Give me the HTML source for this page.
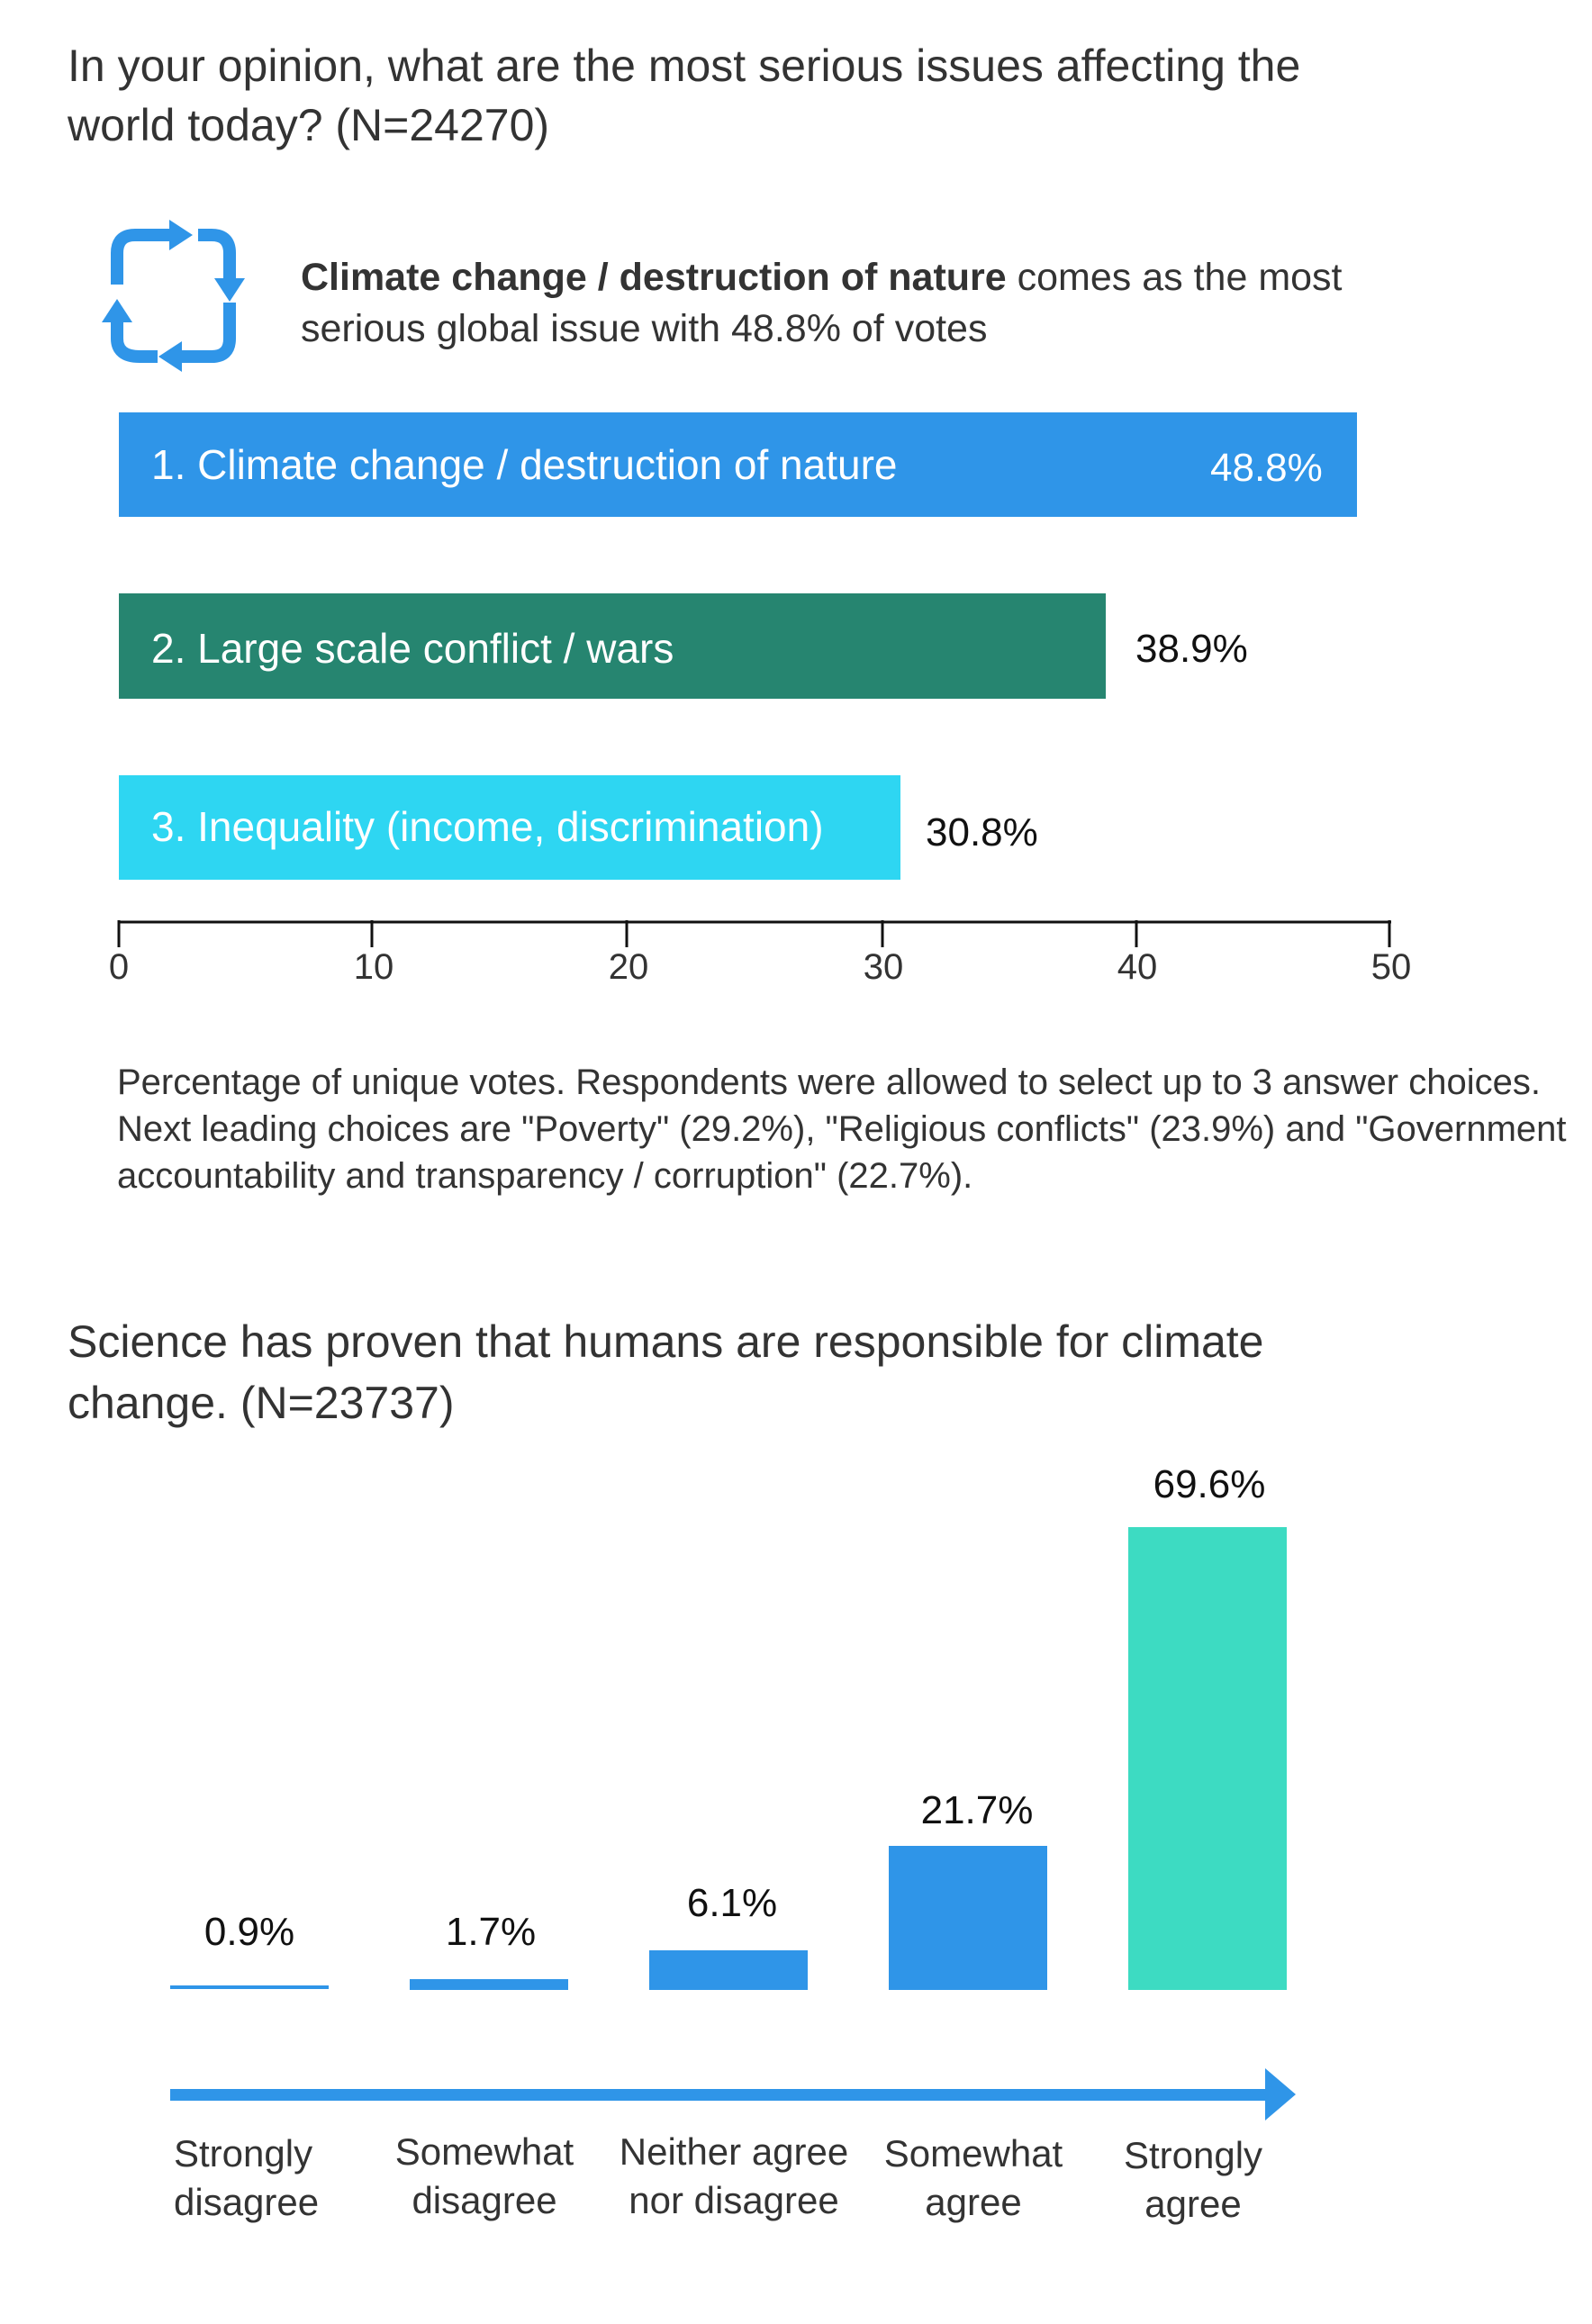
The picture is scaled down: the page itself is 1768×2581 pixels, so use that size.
<!DOCTYPE html>
<html><head><meta charset="utf-8"><style>
html,body{margin:0;padding:0;background:#fff;}
body{width:1768px;height:2581px;position:relative;overflow:hidden;font-family:"Liberation Sans Narrow","Liberation Sans",sans-serif;color:#333;}
.t{position:absolute;white-space:nowrap;}
.c{transform:translateX(-50%);text-align:center;}
</style></head><body>
<div class="t" style="left:75px;top:40px;font-size:50px;line-height:66px;color:#333">In your opinion, what are the most serious issues affecting the<br>world today? (N=24270)</div>

<svg style="position:absolute;left:110px;top:236px" width="190" height="186" viewBox="0 0 190 186">
<g fill="none" stroke="#2f95e8" stroke-width="14" stroke-linecap="butt">
<path d="M20 80 V45 Q20 25 40 25 H80"/>
<path d="M110 25 H125 Q145 25 145 45 V75"/>
<path d="M145 100 V140 Q145 160 125 160 H90"/>
<path d="M65 160 H45 Q20 160 20 140 V120"/>
</g>
<g fill="#2f95e8">
<polygon points="78,8 104,25 78,42"/>
<polygon points="128,73 162,73 145,99"/>
<polygon points="92,143 66,160 92,177"/>
<polygon points="3,122 37,122 20,96"/>
</g>
</svg>
<div class="t" style="left:334px;top:280px;font-size:43px;line-height:57px;color:#333"><b>Climate change / destruction of nature</b> comes as the most<br>serious global issue with 48.8% of votes</div>

<div style="position:absolute;left:132px;top:458px;width:1375px;height:116px;background:#2f95e8"></div>
<div class="t" style="left:168px;top:488px;font-size:46px;line-height:56px;color:#fff">1. Climate change / destruction of nature</div>
<div class="t" style="left:1344px;top:492px;font-size:44px;line-height:56px;color:#fff">48.8%</div>

<div style="position:absolute;left:132px;top:659px;width:1096px;height:117px;background:#268570"></div>
<div class="t" style="left:168px;top:692px;font-size:46px;line-height:56px;color:#fff">2. Large scale conflict / wars</div>
<div class="t" style="left:1261px;top:693px;font-size:44px;line-height:56px;color:#111">38.9%</div>

<div style="position:absolute;left:132px;top:861px;width:868px;height:116px;background:#2ed6f2"></div>
<div class="t" style="left:168px;top:890px;font-size:46px;line-height:56px;color:#fff">3. Inequality (income, discrimination)</div>
<div class="t" style="left:1028px;top:897px;font-size:44px;line-height:56px;color:#111">30.8%</div>

<svg style="position:absolute;left:0;top:0" width="1768" height="1100">
<g stroke="#111" stroke-width="3">
<line x1="131" y1="1024" x2="1545" y2="1024"/>
<line x1="132" y1="1022" x2="132" y2="1052"/>
<line x1="413" y1="1022" x2="413" y2="1052"/>
<line x1="696" y1="1022" x2="696" y2="1052"/>
<line x1="980" y1="1022" x2="980" y2="1052"/>
<line x1="1262" y1="1022" x2="1262" y2="1052"/>
<line x1="1543" y1="1022" x2="1543" y2="1052"/>
</g>
</svg>
<div class="t c" style="left:132px;top:1050px;font-size:40px;line-height:48px">0</div>
<div class="t c" style="left:415px;top:1050px;font-size:40px;line-height:48px">10</div>
<div class="t c" style="left:698px;top:1050px;font-size:40px;line-height:48px">20</div>
<div class="t c" style="left:981px;top:1050px;font-size:40px;line-height:48px">30</div>
<div class="t c" style="left:1263px;top:1050px;font-size:40px;line-height:48px">40</div>
<div class="t c" style="left:1545px;top:1050px;font-size:40px;line-height:48px">50</div>

<div class="t" style="left:130px;top:1176px;font-size:40px;line-height:52px;color:#333">Percentage of unique votes. Respondents were allowed to select up to 3 answer choices.<br>Next leading choices are "Poverty" (29.2%), "Religious conflicts" (23.9%) and "Government<br>accountability and transparency / corruption" (22.7%).</div>

<div class="t" style="left:75px;top:1456px;font-size:50px;line-height:68px;color:#333">Science has proven that humans are responsible for climate<br>change. (N=23737)</div>

<div style="position:absolute;left:189px;top:2205px;width:176px;height:4px;background:#2f95e8"></div>
<div style="position:absolute;left:455px;top:2198px;width:176px;height:12px;background:#2f95e8"></div>
<div style="position:absolute;left:721px;top:2166px;width:176px;height:44px;background:#2f95e8"></div>
<div style="position:absolute;left:987px;top:2050px;width:176px;height:160px;background:#2f95e8"></div>
<div style="position:absolute;left:1253px;top:1696px;width:176px;height:514px;background:#3ddbc2"></div>

<div class="t c" style="left:277px;top:2118px;font-size:44px;line-height:56px;color:#111">0.9%</div>
<div class="t c" style="left:545px;top:2118px;font-size:44px;line-height:56px;color:#111">1.7%</div>
<div class="t c" style="left:813px;top:2086px;font-size:44px;line-height:56px;color:#111">6.1%</div>
<div class="t c" style="left:1085px;top:1983px;font-size:44px;line-height:56px;color:#111">21.7%</div>
<div class="t c" style="left:1343px;top:1621px;font-size:44px;line-height:56px;color:#111">69.6%</div>

<svg style="position:absolute;left:0;top:2280px" width="1768" height="100">
<rect x="189" y="40" width="1222" height="13" fill="#2f95e8"/>
<polygon points="1405,17 1439,46 1405,75" fill="#2f95e8"/>
</svg>

<div class="t" style="left:193px;top:2365px;font-size:42px;line-height:54px;color:#333">Strongly<br>disagree</div>
<div class="t c" style="left:538px;top:2363px;font-size:42px;line-height:54px;color:#333">Somewhat<br>disagree</div>
<div class="t c" style="left:815px;top:2363px;font-size:42px;line-height:54px;color:#333">Neither agree<br>nor disagree</div>
<div class="t c" style="left:1081px;top:2365px;font-size:42px;line-height:54px;color:#333">Somewhat<br>agree</div>
<div class="t c" style="left:1325px;top:2367px;font-size:42px;line-height:54px;color:#333">Strongly<br>agree</div>
</body></html>
